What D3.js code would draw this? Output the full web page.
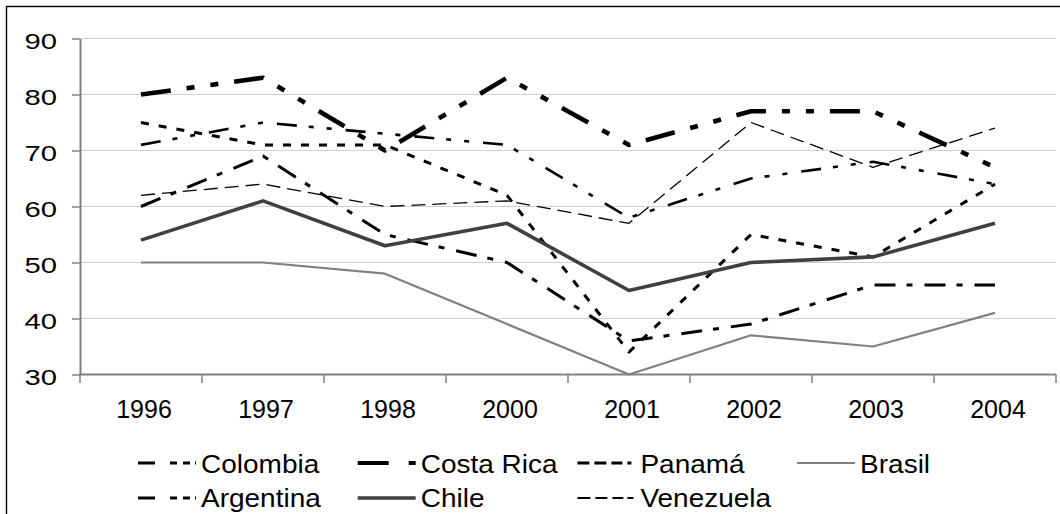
<!DOCTYPE html>
<html>
<head>
<meta charset="utf-8">
<script src="https://cdn.jsdelivr.net/npm/d3@7"></script>
<style>
  html, body { margin: 0; padding: 0; background: #fff; }
  svg { display: block; }
  text { font-family: "Liberation Sans", Arial, sans-serif; fill: #000; font-weight: normal; }
</style>
</head>
<body>
<svg id="chart" width="1060" height="514"></svg>
<script>
// ---- data ----
const categories = ["1996", "1997", "1998", "2000", "2001", "2002", "2003", "2004"];
const colombia   = [71, 75, 73, 71, 58, 65, 68, 64];
const costaRica  = [80, 83, 70, 83, 71, 77, 77, 67];
const panama     = [75, 71, 71, 62, 34, 55, 51, 64];
const brasil     = [50, 50, 48, 39, 30, 37, 35, 41];
const argentina  = [60, 69, 55, 50, 36, 39, 46, 46];
const chile      = [54, 61, 53, 57, 45, 50, 51, 57];
const venezuela  = [62, 64, 60, 61, 57, 75, 67, 74];
const seriesNames = ["Colombia", "Costa Rica", "Panamá", "Brasil", "Argentina", "Chile", "Venezuela"];
const yTicks = [30, 40, 50, 60, 70, 80, 90];

const seriesValues = [colombia, costaRica, panama, brasil, argentina, chile, venezuela];

// ---- styles (per series, same order as names) ----
const styles = [
  { color: "#000", width: 2.6, dash: "20,12,5,13,5,14", legDash: "17,15,7,6,7,5,2", legWidth: 3 },
  { color: "#000", width: 4.6, dash: "30,16,8,16,8,16", legDash: "31,20,8", legWidth: 4 },
  { color: "#000", width: 3,   dash: "8,10",            legDash: "12,5,12,5,11,5,4", legWidth: 3 },
  { color: "#808080", width: 2.2, dash: null,            legDash: null, legWidth: 2 },
  { color: "#000", width: 3,   dash: "21,11,6,12",      legDash: "17,15,7,6,7,5,2", legWidth: 3 },
  { color: "#404040", width: 3.6, dash: null,            legDash: null, legWidth: 3.6 },
  { color: "#000", width: 1.3, dash: "14,7",            legDash: "13,5,12,5,11,4,6", legWidth: 2 }
];

const svg = d3.select("#chart");

// outer border
svg.append("rect")
  .attr("x", 6.5).attr("y", 6.5)
  .attr("width", 1120).attr("height", 600)
  .attr("fill", "none").attr("stroke", "#000").attr("stroke-width", 1.4);

const plot = { left: 80, right: 1056, top: 38.5, bottom: 374.5 };

const x = d3.scaleBand().domain(categories).range([plot.left, plot.right]);
const y = d3.scaleLinear().domain([30, 90]).range([plot.bottom, plot.top]);
const cx = c => x(c) + x.bandwidth() / 2;

// gridlines
svg.append("g")
  .selectAll("line")
  .data(yTicks.filter(t => t !== 30))
  .join("line")
  .attr("x1", plot.left).attr("x2", plot.right)
  .attr("y1", d => y(d)).attr("y2", d => y(d))
  .attr("stroke", "#d0d0d0").attr("stroke-width", 1);

// y axis
const yAxis = svg.append("g")
  .attr("transform", `translate(${plot.left},0)`)
  .call(d3.axisLeft(y).tickValues(yTicks).tickSize(8).tickSizeOuter(0));
yAxis.select(".domain").attr("stroke", "#808080").attr("stroke-width", 2);
yAxis.selectAll(".tick line").attr("stroke", "#808080").attr("stroke-width", 1.5);
yAxis.selectAll(".tick text")
  .attr("x", 0).attr("dy", 10)
  .attr("transform", "translate(-23,0) scale(1.33,1)")
  .style("font-size", "22px")
  .style("font-family", "'Liberation Sans', Arial, sans-serif")
  .attr("fill", "#000");

// x axis
const xAxis = svg.append("g")
  .attr("transform", `translate(0,${plot.bottom})`)
  .call(d3.axisBottom(x).tickSize(0).tickSizeOuter(0));
xAxis.select(".domain").remove();
xAxis.selectAll(".tick text")
  .attr("y", 43.5).attr("dy", 0).attr("x", 3)
  .style("font-size", "25px")
  .style("font-family", "'Liberation Sans', Arial, sans-serif")
  .attr("fill", "#000");
svg.append("line")
  .attr("x1", plot.left - 1).attr("x2", plot.right)
  .attr("y1", plot.bottom).attr("y2", plot.bottom)
  .attr("stroke", "#808080").attr("stroke-width", 2);
const boundaries = categories.map(c => x(c)).concat([x.range()[1]]);
svg.append("g").selectAll("line")
  .data(boundaries)
  .join("line")
  .attr("x1", d => d).attr("x2", d => d)
  .attr("y1", plot.bottom).attr("y2", plot.bottom + 8.5)
  .attr("stroke", "#808080").attr("stroke-width", 1.5);

// series lines
const line = d3.line()
  .x((d, i) => cx(categories[i]))
  .y(d => y(d));

svg.append("g").selectAll("path")
  .data(seriesValues)
  .join("path")
  .attr("d", d => line(d))
  .attr("fill", "none")
  .attr("stroke", (d, i) => styles[i].color)
  .attr("stroke-width", (d, i) => styles[i].width)
  .attr("stroke-dasharray", (d, i) => styles[i].dash)
  .attr("stroke-linejoin", "round")
  .attr("stroke-linecap", "butt");

// legend
const legendCol0 = 138, legendColStep = 219.7, sampleW = 58;
const rowLineY = [463, 498];
const rowTextY = [473, 507];
const legend = svg.append("g");
seriesNames.forEach((name, i) => {
  const row = i < 4 ? 0 : 1;
  const col = i < 4 ? i : i - 4;
  const lx = legendCol0 + col * legendColStep;
  const s = styles[i];
  legend.append("line")
    .attr("x1", lx).attr("x2", lx + sampleW)
    .attr("y1", rowLineY[row]).attr("y2", rowLineY[row])
    .attr("stroke", s.color)
    .attr("stroke-width", s.legWidth)
    .attr("stroke-dasharray", s.legDash);
  legend.append("text")
    .attr("transform", `translate(${lx + 63},${rowTextY[row]}) scale(1.12,1)`)
    .style("font-size", "25px")
    .text(name);
});
</script>
</body>
</html>
